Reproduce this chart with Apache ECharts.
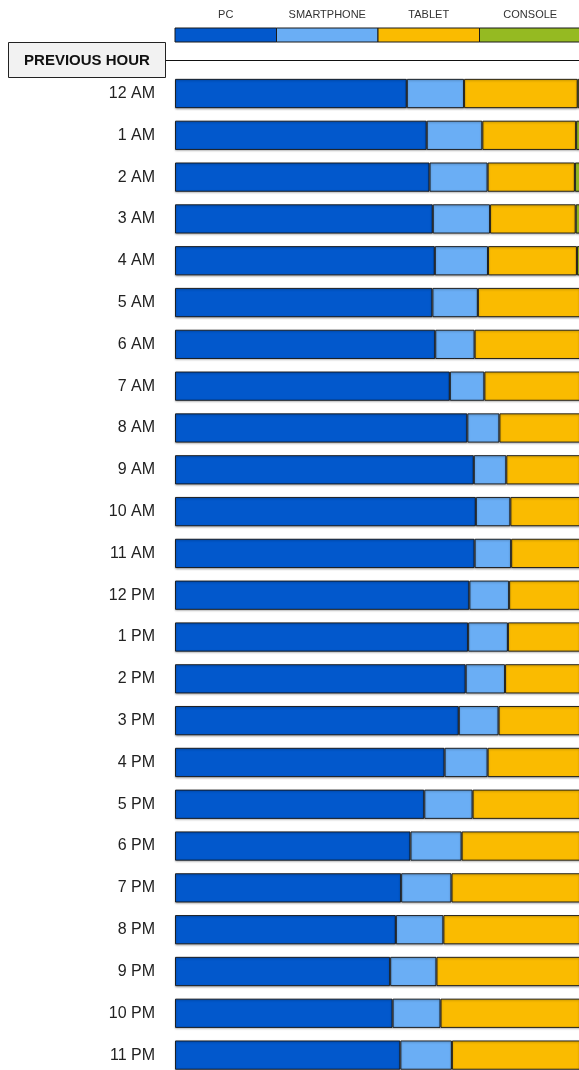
<!DOCTYPE html>
<html>
<head>
<meta charset="utf-8">
<style>
  html, body { margin: 0; padding: 0; background: #ffffff; overflow: hidden; }
  #chart { width: 620px; height: 1100px; }
</style>
<script src="https://cdn.jsdelivr.net/npm/echarts@6/dist/echarts.min.js"></script>
</head>
<body>
<div id="chart"></div>
<script>
// Hour of day, top to bottom
const hours = ['12 AM', '1 AM', '2 AM', '3 AM', '4 AM', '5 AM', '6 AM', '7 AM', '8 AM', '9 AM', '10 AM', '11 AM',
               '12 PM', '1 PM', '2 PM', '3 PM', '4 PM', '5 PM', '6 PM', '7 PM', '8 PM', '9 PM', '10 PM', '11 PM'];

// Share of traffic per device (%), previous hour
const pc         = [57.1, 62.0, 62.7, 63.5, 64.0, 63.4, 64.1, 67.7, 72.0, 73.6, 74.1, 73.8,
                    72.5, 72.2, 71.6, 69.9, 66.4, 61.4, 58.0, 55.7, 54.4, 53.0, 53.6, 55.5];
const smartphone = [14.1, 13.7, 14.3, 14.1, 13.1, 11.2,  9.7,  8.5,  7.9,  8.0,  8.5,  9.0,
                     9.8,  9.8,  9.7,  9.8, 10.6, 11.9, 12.6, 12.4, 11.7, 11.4, 11.8, 12.7];
const tablet     = [28.0, 23.1, 21.5, 21.1, 21.9, 25.2, 26.0, 23.6, 19.9, 18.2, 17.2, 17.0,
                    17.5, 17.8, 18.5, 20.1, 22.8, 26.5, 29.2, 31.7, 33.7, 35.4, 34.4, 31.6];
const console_   = [ 0.8,  1.2,  1.5,  1.3,  1.0,  0.2,  0.2,  0.2,  0.2,  0.2,  0.2,  0.2,
                     0.2,  0.2,  0.2,  0.2,  0.2,  0.2,  0.2,  0.2,  0.2,  0.2,  0.2,  0.2];

const seriesNames = ['PC', 'SMARTPHONE', 'TABLET', 'CONSOLE'];
const seriesData = [pc, smartphone, tablet, console_];
const colors = ['#0258cc', '#6aaef5', '#fabb00', '#95ba22'];

const chart = echarts.init(document.getElementById('chart'), null, { renderer: 'canvas' });

const plotLeft = 175;
const plotWidth = 406;
const keyWidth = plotWidth / seriesNames.length;

// Colour key across the top: one swatch per device with its name above
const keyGraphics = [];
seriesNames.forEach((name, i) => {
  keyGraphics.push({
    type: 'rect',
    shape: { x: plotLeft + i * keyWidth, y: 28, width: keyWidth, height: 14 },
    style: { fill: colors[i], stroke: '#1a1a1a', lineWidth: 1 }
  });
  keyGraphics.push({
    type: 'text',
    x: plotLeft + i * keyWidth + keyWidth / 2,
    y: 15,
    style: {
      text: name, fill: '#333', fontSize: 11,
      fontFamily: 'Liberation Sans, Arial, sans-serif',
      align: 'center', verticalAlign: 'middle'
    }
  });
});

const option = {
  animation: false,
  backgroundColor: '#ffffff',
  grid: { left: plotLeft, top: 72.6, width: plotWidth, height: 1003.4, containLabel: false },
  xAxis: { type: 'value', min: 0, max: 100, show: false },
  yAxis: {
    type: 'category',
    data: hours,
    inverse: true,
    axisLine: { show: false },
    axisTick: { show: false },
    splitLine: { show: false },
    axisLabel: {
      margin: 20,
      color: '#222',
      fontSize: 16,
      fontFamily: 'Liberation Sans, Arial, sans-serif'
    }
  },
  series: seriesNames.map((name, i) => ({
    name: name,
    type: 'bar',
    stack: 'share',
    data: seriesData[i],
    barCategoryGap: '30%',
    itemStyle: {
      color: colors[i],
      borderColor: 'rgba(20,20,20,0.9)',
      borderWidth: 1,
      shadowColor: 'rgba(0,0,0,0.3)',
      shadowBlur: 2,
      shadowOffsetY: 1
    }
  })),
  graphic: [
    {
      type: 'line',
      shape: { x1: 166, y1: 60.5, x2: 620, y2: 60.5 },
      style: { stroke: '#111', lineWidth: 1 }
    },
    {
      type: 'rect',
      shape: { x: 8.5, y: 42.5, width: 157, height: 35 },
      style: { fill: '#f2f2f2', stroke: '#222', lineWidth: 1 }
    },
    {
      type: 'text',
      x: 87,
      y: 60.5,
      style: {
        text: 'PREVIOUS HOUR', fill: '#111', fontSize: 15, fontWeight: 'bold',
        fontFamily: 'Liberation Sans, Arial, sans-serif',
        align: 'center', verticalAlign: 'middle'
      }
    }
  ].concat(keyGraphics)
};

chart.setOption(option);
</script>
</body>
</html>
